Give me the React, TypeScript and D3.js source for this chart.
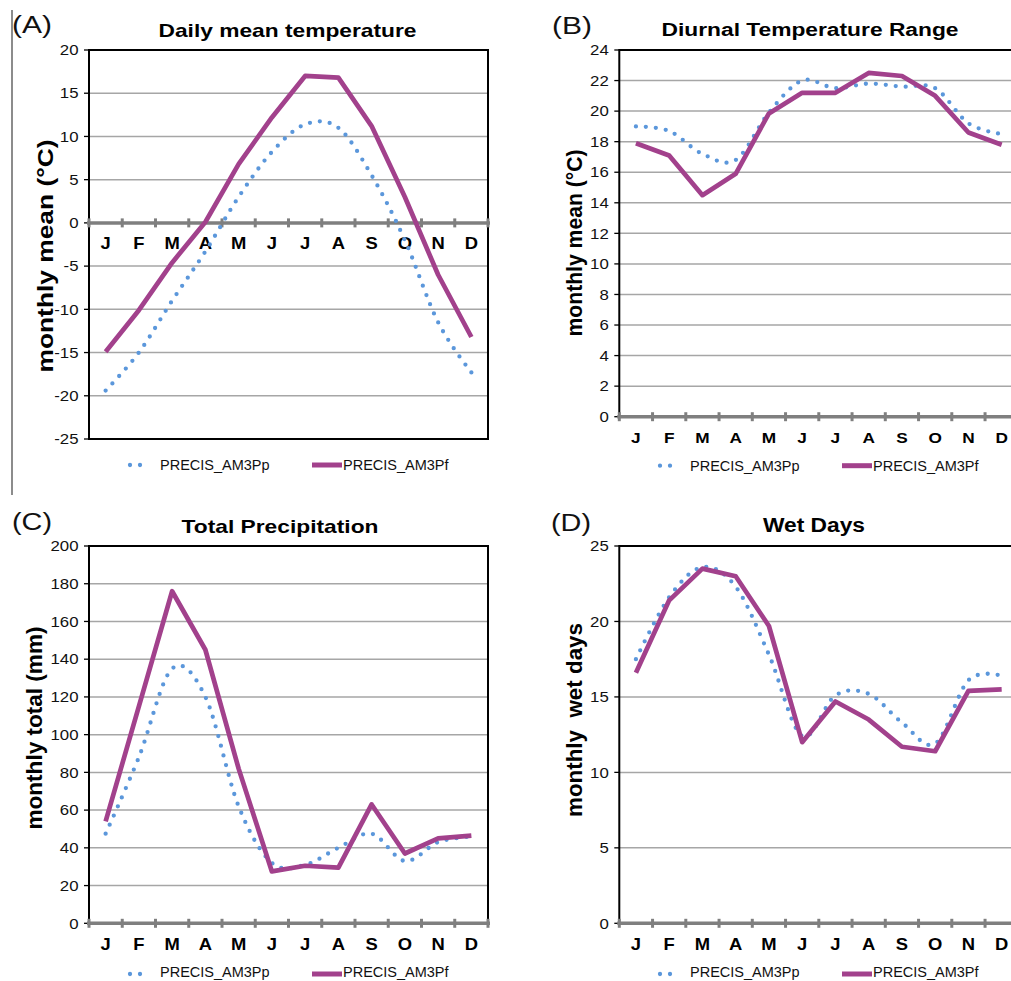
import React from 'react';
import * as d3 from 'd3';

const months = ['J', 'F', 'M', 'A', 'M', 'J', 'J', 'A', 'S', 'O', 'N', 'D'];
const seriesNames = ['PRECIS_AM3Pp', 'PRECIS_AM3Pf'];

const tempPp = [-19.4, -15.0, -9.0, -3.3, 3.0, 8.2, 11.4, 11.0, 5.5, -2.0, -11.5, -17.3];
const tempPf = [-14.9, -10.1, -4.6, 0.1, 6.8, 12.2, 17.0, 16.8, 11.2, 3.0, -6.0, -13.2];
const tempTicks = [-25, -20, -15, -10, -5, 0, 5, 10, 15, 20];

const dtrPp = [19.0, 18.7, 17.2, 16.8, 19.9, 22.0, 21.5, 21.8, 21.6, 21.5, 19.2, 18.5];
const dtrPf = [17.9, 17.1, 14.5, 15.9, 19.85, 21.2, 21.2, 22.5, 22.3, 21.0, 18.6, 17.8];
const dtrTicks = [0, 2, 4, 6, 8, 10, 12, 14, 16, 18, 20, 22, 24];

const precPp = [47.5, 88, 135, 120, 62, 32, 31, 40, 47.5, 33, 43, 46];
const precPf = [54, 115, 176, 145, 82, 27.5, 30.5, 29.5, 63, 37, 45, 46.5];
const precTicks = [0, 20, 40, 60, 80, 100, 120, 140, 160, 180, 200];

const wetPp = [17.5, 21.6, 23.6, 22.3, 17.8, 12.4, 15.1, 15.2, 13.3, 11.9, 16.1, 16.4];
const wetPf = [16.6, 21.4, 23.5, 23.0, 19.7, 12.0, 14.7, 13.5, 11.7, 11.4, 15.4, 15.5];
const wetTicks = [0, 5, 10, 15, 20, 25];

const BLUE = '#5b97db';
const PURPLE = '#a2418c';
const FONT = '"Liberation Sans", Arial, Helvetica, sans-serif';

type Panel = {
  tag: string; tagX: number; tagY: number;
  title: string; titleX: number; titleY: number; titleSize: number; titleLen: number;
  ylabel: string; ylabelX: number; ylabelY: number; ylabelLen: number;
  left: number; right: number; top: number; bottom: number;
  ticks: number[]; pp: number[]; pf: number[];
  monthSize: number;
  legendY: number; legendX: number; legendTextDy: number;
};

const panels: Panel[] = [
  {
    tag: '(A)', tagX: 12, tagY: 32.5,
    title: 'Daily mean temperature', titleX: 287.5, titleY: 36.5, titleSize: 18.5, titleLen: 258,
    ylabel: 'monthly mean (°C)', ylabelX: 53, ylabelY: 256, ylabelLen: 233,
    left: 89, right: 488, top: 50, bottom: 439,
    ticks: tempTicks, pp: tempPp, pf: tempPf, monthSize: 16,
    legendY: 465, legendX: 130, legendTextDy: 5.2,
  },
  {
    tag: '(B)', tagX: 552, tagY: 33.5,
    title: 'Diurnal Temperature Range', titleX: 810, titleY: 35.7, titleSize: 18, titleLen: 297,
    ylabel: 'monthly mean (°C)', ylabelX: 581.5, ylabelY: 243, ylabelLen: 187,
    left: 619.3, right: 1018.3, top: 50, bottom: 416.7,
    ticks: dtrTicks, pp: dtrPp, pf: dtrPf, monthSize: 15,
    legendY: 465.7, legendX: 660, legendTextDy: 5.2,
  },
  {
    tag: '(C)', tagX: 12, tagY: 529.5,
    title: 'Total Precipitation', titleX: 280, titleY: 533, titleSize: 19, titleLen: 197,
    ylabel: 'monthly total (mm)', ylabelX: 41.5, ylabelY: 728, ylabelLen: 203,
    left: 89, right: 488, top: 546, bottom: 923.3,
    ticks: precTicks, pp: precPp, pf: precPf, monthSize: 16,
    legendY: 974, legendX: 130, legendTextDy: 3,
  },
  {
    tag: '(D)', tagX: 551, tagY: 530.5,
    title: 'Wet Days', titleX: 814, titleY: 532, titleSize: 19.5, titleLen: 102,
    ylabel: 'monthly  wet days', ylabelX: 581.5, ylabelY: 720, ylabelLen: 194,
    left: 619.3, right: 1018.3, top: 546, bottom: 923.3,
    ticks: wetTicks, pp: wetPp, pf: wetPf, monthSize: 16,
    legendY: 974, legendX: 660, legendTextDy: 3,
  },
];

function ChartPanel({ p }: { p: Panel }) {
  const idx = months.map((_, i) => i);
  const x = d3.scaleBand<number>().domain(idx).range([p.left, p.right]).padding(0);
  const cx = (i: number) => (x(i) as number) + x.bandwidth() / 2;
  const dom = d3.extent(p.ticks) as [number, number];
  const y = d3.scaleLinear().domain(dom).range([p.bottom, p.top]);
  const y0 = y(0);

  const linePf = d3.line<number>().x((_, i) => cx(i)).y((d) => y(d));
  const linePp = d3.line<number>().x((_, i) => cx(i)).y((d) => y(d)).curve(d3.curveCardinal.tension(0));

  const boundaries = d3.range(months.length + 1).map((i) => p.left + i * x.bandwidth());
  const monthY = y0 + 26.6;

  return (
    <g>
      <text x={p.tagX} y={p.tagY} fontSize={23} fontFamily={FONT} textLength={40} lengthAdjust="spacingAndGlyphs" fill="#111">
        {p.tag}
      </text>
      <text
        x={p.titleX} y={p.titleY} fontSize={p.titleSize} fontWeight="bold" fontFamily={FONT}
        textAnchor="middle" textLength={p.titleLen} lengthAdjust="spacingAndGlyphs" fill="#000"
      >
        {p.title}
      </text>
      <text
        transform={`translate(${p.ylabelX},${p.ylabelY}) rotate(-90)`}
        fontSize={22} fontWeight="bold" fontFamily={FONT} textAnchor="middle"
        textLength={p.ylabelLen} lengthAdjust="spacingAndGlyphs" fill="#000"
        style={{ whiteSpace: 'pre' }}
      >
        {p.ylabel}
      </text>

      {/* gridlines */}
      {p.ticks.filter((t) => t !== dom[0] && t !== dom[1]).map((t) => (
        <line key={'g' + t} x1={p.left} x2={p.right} y1={y(t)} y2={y(t)} stroke="#a6a6a6" strokeWidth={1.5} />
      ))}

      {/* frame */}
      <rect x={p.left} y={p.top} width={p.right - p.left} height={p.bottom - p.top} fill="none" stroke="#000" strokeWidth={2} />

      {/* y ticks and labels */}
      {p.ticks.map((t) => (
        <g key={'t' + t}>
          <line x1={p.left - 5} x2={p.left} y1={y(t)} y2={y(t)} stroke="#000" strokeWidth={1.3} />
          <text
            transform={`translate(${p.left - 10.5},${y(t) + 5.2}) scale(1.2,1)`}
            fontSize={14} fontFamily={FONT} textAnchor="end" fill="#111"
          >
            {t}
          </text>
        </g>
      ))}

      {/* category axis at zero */}
      <line x1={p.left - 2} x2={p.right + 2} y1={y0} y2={y0} stroke="#7f7f7f" strokeWidth={3.5} />
      {boundaries.map((bx, i) => (
        <line key={'b' + i} x1={bx} x2={bx} y1={y0 - 4.5} y2={y0 + 4.5} stroke="#7f7f7f" strokeWidth={3} />
      ))}
      {months.map((m, i) => (
        <text
          key={'m' + i}
          transform={`translate(${cx(i)},${monthY}) scale(1.15,1)`}
          fontSize={p.monthSize} fontWeight="bold" fontFamily={FONT} textAnchor="middle" fill="#000"
        >
          {m}
        </text>
      ))}

      {/* series */}
      <path d={linePp(p.pp) || ''} fill="none" stroke={BLUE} strokeWidth={4.3} strokeDasharray="0 10" strokeLinecap="round" />
      <path d={linePf(p.pf) || ''} fill="none" stroke={PURPLE} strokeWidth={4.7} strokeLinejoin="round" />

      {/* legend */}
      <line x1={p.legendX} x2={p.legendX + 20} y1={p.legendY} y2={p.legendY} stroke={BLUE} strokeWidth={4.3} strokeDasharray="0 10" strokeLinecap="round" />
      <text x={p.legendX + 30} y={p.legendY + p.legendTextDy} fontSize={14.5} fontFamily={FONT} fill="#111">{seriesNames[0]}</text>
      <line x1={p.legendX + 182} x2={p.legendX + 212} y1={p.legendY} y2={p.legendY} stroke={PURPLE} strokeWidth={5} />
      <text x={p.legendX + 213} y={p.legendY + p.legendTextDy} fontSize={14.5} fontFamily={FONT} fill="#111">{seriesNames[1]}</text>
    </g>
  );
}

export default function App() {
  return (
    <svg
      width={1011}
      height={981}
      viewBox="0 0 1011 981"
      style={{ position: 'absolute', left: 0, top: 0, background: '#fff', display: 'block' }}
    >
      <rect x={0} y={0} width={1011} height={981} fill="#fff" />
      <line x1={12} x2={12} y1={10} y2={495} stroke="#8c8c8c" strokeWidth={2} />
      {panels.map((p) => (
        <ChartPanel key={p.tag} p={p} />
      ))}
    </svg>
  );
}
